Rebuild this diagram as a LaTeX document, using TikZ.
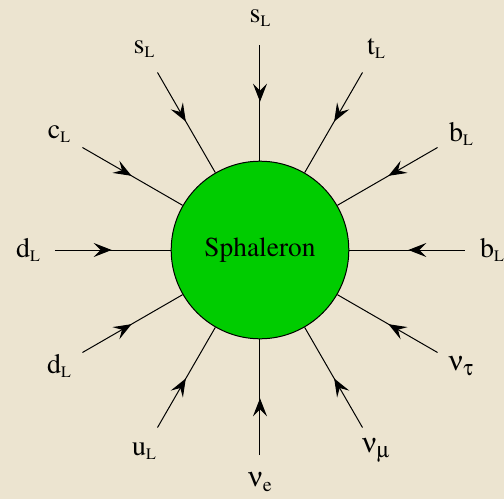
\documentclass[tikz,border=0pt]{standalone}
\usepackage[T1]{fontenc}
\usepackage{mathptmx}
\usepackage[Symbol]{upgreek}
\usetikzlibrary{arrows.meta, decorations.markings}
\definecolor{parchment}{RGB}{236,228,208}
\definecolor{sphgreen}{RGB}{0,204,0}
\newcommand\lsub[1]{\raisebox{-2pt}{\fontsize{8}{9}\selectfont #1}}
\newcommand\gsub[1]{\raisebox{-2.5pt}{\fontsize{11}{13}\selectfont #1}}

\begin{document}
\begin{tikzpicture}[x=0.5pt, y=0.5pt, line width=0.5pt,
    inflow/.style={postaction={decorate}, decoration={markings,
        mark=at position 0.49 with {\arrow{Stealth[length=9pt,width=7pt,inset=3.5pt]}}}},
    particle/.style={inner sep=0pt, font=\fontsize{14}{16}\selectfont}]
    \fill[parchment] (-260,-249) rectangle (244,250);
    \node[circle, draw, fill=sphgreen, minimum size=88.8pt, inner sep=0pt,
        font=\fontsize{13.7}{16}\selectfont] (sph) at (0,0) {Sphaleron};
    % incoming left-handed fermions
    \foreach \ang/\txt [count=\i] in {90/s\lsub{L}, 60/t\lsub{L}, 30/b\lsub{L}, 0/b\lsub{L},
        -30/$\upnu$\gsub{$\uptau$}, -60/$\upnu$\gsub{$\upmu$},
        -90/$\upnu$\gsub{\fontsize{10}{11}\selectfont e}, -120/u\lsub{L},
        -150/d\lsub{L}, 180/d\lsub{L}, 150/c\lsub{L}, 120/s\lsub{L}} {
        \node[particle] (lab\i) at (\ang:232) {\txt};
        \coordinate (out\i) at (\ang:205);
        \draw[inflow] (out\i) -- (sph);
    }
\end{tikzpicture}
\end{document}
